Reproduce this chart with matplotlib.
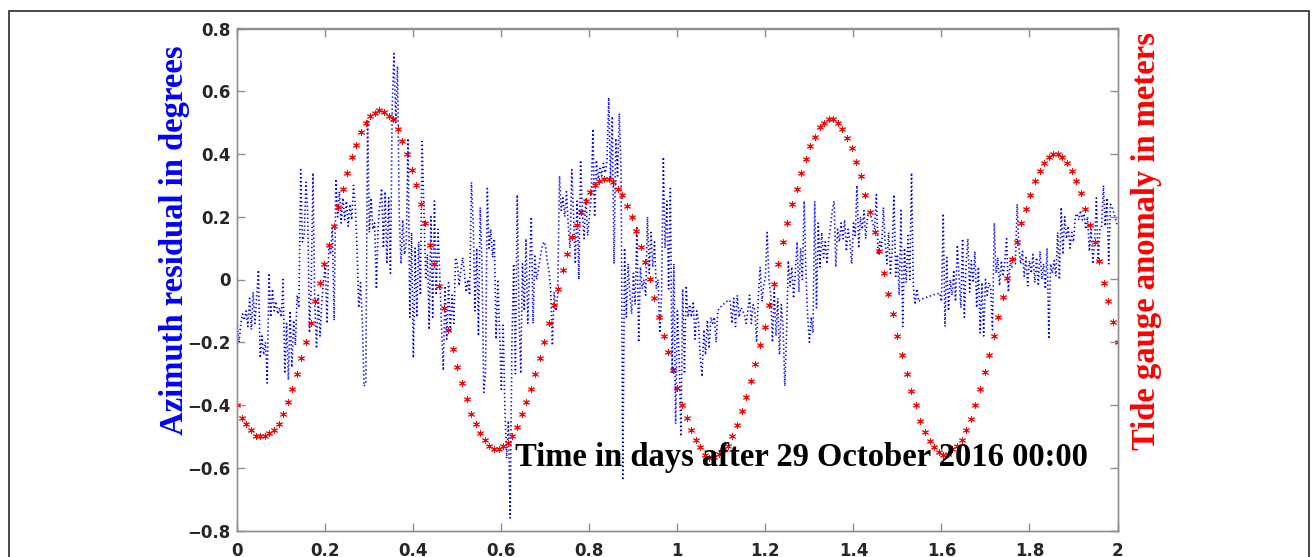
import numpy as np
import matplotlib
matplotlib.use("Agg")
import matplotlib.pyplot as plt
from matplotlib.patches import Rectangle
from matplotlib.ticker import FuncFormatter

# ---------------- data ----------------
# Azimuth residual (degrees), sampled every 0.004 day from t=0 to t=2
azimuth_step = 0.004
azimuth_residual = [
    -0.15,-0.20,-0.14,-0.11,-0.13,-0.10,-0.15,-0.06,-0.16,-0.04,-0.14,-0.06,0.03,-0.25,-0.18,-0.24,-0.20,-0.33,0.02,-0.12,-0.03,-0.10,-0.07,-0.11,-0.09,
    -0.12,0.00,-0.30,-0.14,-0.32,-0.10,-0.28,-0.13,-0.21,-0.05,-0.09,0.35,0.12,0.14,0.31,0.21,-0.17,-0.02,0.34,-0.08,-0.22,-0.05,-0.18,-0.07,0.00,
    0.04,-0.14,0.11,0.08,0.17,-0.13,0.32,0.20,0.28,0.18,0.26,0.19,0.25,0.17,0.24,0.19,0.30,0.24,0.10,-0.09,-0.01,-0.13,-0.34,-0.33,0.51,
    0.15,0.26,0.16,0.18,-0.03,0.17,0.24,0.29,0.10,0.28,0.05,0.26,0.02,0.55,0.72,0.50,0.68,0.20,0.05,0.19,0.08,0.12,0.45,-0.12,0.15,
    -0.25,0.10,-0.12,0.12,-0.05,0.44,0.23,0.00,0.08,-0.16,0.20,-0.12,0.25,-0.05,0.16,0.02,-0.15,-0.29,-0.02,-0.19,-0.01,-0.17,-0.05,-0.14,0.07,
    0.05,-0.02,0.03,0.07,0.02,-0.04,0.00,-0.05,0.31,0.18,-0.10,0.10,-0.18,0.23,0.05,-0.36,-0.30,0.29,0.10,0.16,0.07,0.13,-0.19,0.00,-0.16,
    -0.35,-0.14,-0.41,-0.57,-0.45,-0.76,-0.20,0.05,-0.30,0.27,-0.10,-0.30,0.05,-0.10,0.13,-0.14,0.03,0.20,-0.14,0.08,0.00,0.03,0.07,0.10,0.12,
    0.11,0.06,0.03,-0.03,-0.21,-0.04,-0.10,-0.05,0.33,0.22,0.26,0.20,0.28,0.17,0.10,0.35,0.20,0.05,0.25,0.00,0.38,0.22,0.13,0.26,0.14,
    0.20,0.26,0.48,0.20,0.38,0.32,0.36,0.33,0.37,0.34,0.38,0.58,0.32,0.52,0.05,0.45,0.33,0.53,0.35,-0.64,0.10,-0.12,0.05,-0.05,-0.11,
    0.02,-0.08,0.17,-0.20,0.04,-0.03,0.00,-0.05,0.20,0.02,0.15,0.04,0.12,-0.03,0.00,-0.17,-0.05,0.39,0.10,0.25,-0.03,0.29,-0.30,0.05,-0.46,
    -0.10,-0.25,-0.50,-0.03,-0.30,-0.02,-0.12,-0.08,-0.12,-0.07,-0.19,-0.10,-0.14,-0.25,-0.31,-0.16,-0.24,-0.13,-0.22,-0.12,-0.14,-0.12,-0.20,-0.10,-0.09,
    -0.085,-0.08,-0.075,-0.07,-0.065,-0.07,-0.14,-0.06,-0.15,-0.05,-0.12,-0.09,-0.10,-0.11,-0.14,-0.10,-0.05,-0.14,-0.08,-0.10,-0.20,-0.05,0.04,-0.07,-0.02,
    0.01,0.15,0.00,-0.05,-0.20,-0.03,-0.18,-0.06,-0.24,-0.08,-0.15,-0.34,-0.17,0.06,-0.02,0.04,-0.06,0.02,0.12,-0.04,0.10,0.00,0.25,0.02,-0.12,
    -0.20,-0.12,-0.17,0.25,-0.09,0.18,0.04,0.15,0.07,0.12,0.05,0.13,0.17,0.22,0.25,0.04,0.16,0.12,0.18,0.13,0.19,0.09,0.16,0.12,0.05,
    0.18,0.14,0.30,0.10,0.20,0.16,0.22,0.13,0.20,0.22,0.20,0.18,0.16,0.27,0.08,0.12,0.10,0.23,0.12,0.05,0.15,0.02,0.09,0.27,0.01,
    0.08,-0.05,0.22,-0.15,0.10,-0.01,0.14,0.00,0.34,-0.02,-0.08,-0.03,-0.07,-0.065,-0.062,-0.060,-0.058,-0.056,-0.054,-0.052,-0.050,-0.048,-0.046,-0.045,-0.043,
    -0.07,0.21,-0.15,0.07,-0.10,0.00,-0.05,0.03,-0.07,0.11,0.01,-0.09,0.13,-0.12,0.05,0.13,-0.04,0.06,-0.01,0.09,-0.09,0.04,-0.17,-0.01,-0.18,
    0.00,-0.05,-0.01,-0.03,-0.16,0.18,0.02,0.07,-0.02,0.06,0.01,0.06,0.13,-0.04,0.06,0.04,0.07,0.05,0.24,0.10,0.05,0.09,0.01,0.07,-0.02,
    0.06,0.02,0.08,-0.01,0.07,-0.02,0.09,0.00,0.05,-0.03,0.10,-0.19,0.05,0.02,0.06,0.01,0.15,0.00,0.23,0.08,0.20,0.13,0.17,0.10,0.15,
    0.12,0.20,0.21,0.19,0.22,0.19,0.21,0.16,0.20,0.09,0.16,0.05,0.12,0.26,0.05,0.16,0.17,0.30,0.17,0.26,0.05,0.24,0.23,0.21,0.19,0.17,
]

# Tide gauge anomaly (meters), sampled every 15 minutes
tide_step = 1.0 / 96.0
tide_anomaly = [
    -0.40,-0.44,-0.46,-0.48,-0.50,-0.50,-0.50,-0.49,-0.48,-0.46,
    -0.43,-0.39,-0.35,-0.30,-0.25,-0.20,-0.14,-0.07,-0.01,0.05,
    0.11,0.17,0.23,0.29,0.34,0.39,0.43,0.47,0.50,0.52,
    0.53,0.54,0.535,0.52,0.51,0.48,0.44,0.40,0.35,0.30,
    0.24,0.18,0.11,0.05,-0.02,-0.09,-0.16,-0.22,-0.28,-0.33,
    -0.38,-0.43,-0.46,-0.49,-0.51,-0.53,-0.54,-0.54,-0.53,-0.52,
    -0.50,-0.47,-0.43,-0.39,-0.35,-0.30,-0.25,-0.20,-0.14,-0.08,
    -0.03,0.03,0.08,0.135,0.175,0.215,0.25,0.28,0.30,0.315,
    0.32,0.32,0.31,0.29,0.27,0.235,0.20,0.155,0.105,0.055,
    0.00,-0.06,-0.12,-0.18,-0.23,-0.29,-0.345,-0.40,-0.44,-0.48,
    -0.51,-0.535,-0.56,-0.57,-0.565,-0.555,-0.545,-0.53,-0.50,-0.465,
    -0.42,-0.375,-0.325,-0.27,-0.21,-0.15,-0.08,-0.015,0.05,0.12,
    0.18,0.24,0.29,0.34,0.385,0.425,0.455,0.485,0.50,0.51,
    0.51,0.50,0.48,0.45,0.42,0.375,0.33,0.27,0.215,0.15,
    0.09,0.02,-0.045,-0.11,-0.18,-0.24,-0.30,-0.355,-0.40,-0.45,
    -0.485,-0.515,-0.535,-0.55,-0.56,-0.555,-0.54,-0.53,-0.51,-0.48,
    -0.445,-0.40,-0.35,-0.295,-0.24,-0.18,-0.12,-0.055,0.005,0.065,
    0.12,0.18,0.225,0.27,0.315,0.345,0.37,0.39,0.40,0.40,
    0.39,0.37,0.345,0.315,0.275,0.225,0.175,0.12,0.06,-0.01,
    -0.07,-0.135,-0.20,
]

x_ticks = [0, 0.2, 0.4, 0.6, 0.8, 1, 1.2, 1.4, 1.6, 1.8, 2]
y_ticks = [-0.8, -0.6, -0.4, -0.2, 0, 0.2, 0.4, 0.6, 0.8]
x_label = "Time in days after 29 October 2016 00:00"
y_label_left = "Azimuth residual in degrees"
y_label_right = "Tide gauge anomaly in meters"

# ---------------- figure ----------------
W, H = 1316, 557
fig = plt.figure(figsize=(W / 100, H / 100), dpi=100)
fig.patch.set_facecolor("white")

ax_l, ax_r, ax_t, ax_b = 237.3, 1117.5, 28.5, 530.5
ax = fig.add_axes([ax_l / W, 1 - ax_b / H, (ax_r - ax_l) / W, (ax_b - ax_t) / H])

t_az = np.arange(len(azimuth_residual)) * azimuth_step
ax.plot(t_az, azimuth_residual, color="blue", lw=1.2,
        linestyle=(0, (0.8, 1.6)), dash_capstyle="butt")

ax.set_xlim(0, 2)
ax.set_ylim(-0.8, 0.8)

def fmt(v, pos):
    s = "%g" % v
    return s.replace("-", "\u2212")

spine_col = "#8f8f8f"
tick_col = "#262626"
for sp in ax.spines.values():
    sp.set_color(spine_col)
    sp.set_linewidth(1.0)
ax.set_xticks(x_ticks)
ax.set_yticks(y_ticks)
ax.xaxis.set_major_formatter(FuncFormatter(fmt))
ax.yaxis.set_major_formatter(FuncFormatter(fmt))
ax.tick_params(axis="both", direction="in", length=6, width=1.0, color=spine_col,
               labelcolor=tick_col, labelsize=12, top=True, right=False)
ax.tick_params(axis="x", pad=8)
ax.tick_params(axis="y", pad=5)
for lab in ax.get_xticklabels() + ax.get_yticklabels():
    lab.set_fontweight("bold")
    lab.set_fontfamily("DejaVu Sans")

# right axis for tide gauge
ax2 = ax.twinx()
t_tide = np.arange(len(tide_anomaly)) * tide_step
ax2.plot(t_tide, tide_anomaly, linestyle="none", marker=(6, 2, 0),
         markersize=5, markeredgewidth=0.7, color="red", markeredgecolor="red")
ax2.set_ylim(-0.8, 0.8)
ax2.set_yticks(y_ticks)
ax2.tick_params(axis="y", direction="in", length=6, width=1.0, color=spine_col,
                labelright=False)
for sp in ax2.spines.values():
    sp.set_color(spine_col)
    sp.set_linewidth(1.0)

serif = "Liberation Serif"
fs = 23.5
ax2.text((515 - ax_l) / (ax_r - ax_l), (ax_b - 466) / (ax_b - ax_t), x_label,
         transform=ax2.transAxes, ha="left", va="baseline", fontsize=fs,
         fontweight="bold", family=serif, color="black", zorder=10)

fig.text(175 / W, 1 - 240 / H, y_label_left, rotation=90, ha="center", va="center",
         fontsize=fs, fontweight="bold", family=serif, color="blue")
fig.text(1147 / W, 1 - 241 / H, y_label_right, rotation=90, ha="center", va="center",
         fontsize=fs, fontweight="bold", family=serif, color="red")

# outer frame
fig.add_artist(Rectangle((8.5 / W, -0.05), (1309 - 8.5) / W, (H - 10.5) / H + 0.05,
                         transform=fig.transFigure, fill=False, edgecolor="#3a3a3a",
                         lw=1.3, clip_on=False))

fig.savefig("out.png", dpi=100, facecolor="white")
